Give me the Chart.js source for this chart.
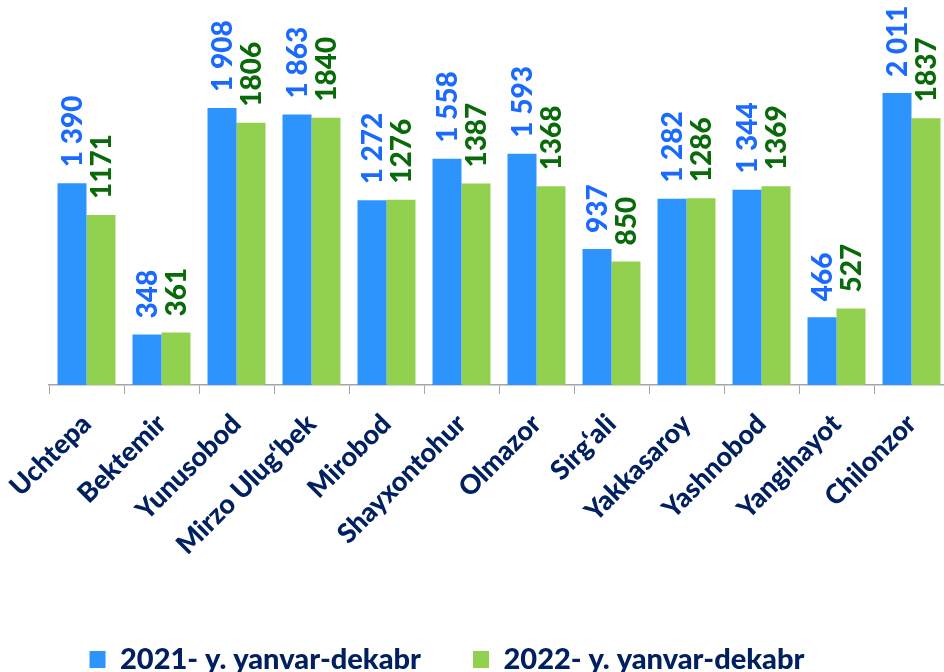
<!DOCTYPE html>
<html>
<head>
<meta charset="utf-8">
<script src="https://cdn.jsdelivr.net/npm/chart.js@4/dist/chart.umd.min.js"></script>
<style>
    html, body { margin: 0; padding: 0; overflow: hidden; background: #fff; }
    #wrap { width: 949px; height: 672px; }
</style>
</head>
<body>
<div id="wrap"><canvas id="districtChart"></canvas></div>
<script>
const districts = ['Uchtepa', 'Bektemir', 'Yunusobod', 'Mirzo Ulug‘bek', 'Mirobod', 'Shayxontohur',
    'Olmazor', 'Sirg‘ali', 'Yakkasaroy', 'Yashnobod', 'Yangihayot', 'Chilonzor'];
const values2021 = [1390, 348, 1908, 1863, 1272, 1558, 1593, 937, 1282, 1344, 466, 2011];
const values2022 = [1171, 361, 1806, 1840, 1276, 1387, 1368, 850, 1286, 1369, 527, 1837];
const seriesNames = ['2021- y. yanvar-dekabr', '2022- y. yanvar-dekabr'];

const navy = '#002060';

// value labels written upright above each bar
const barLabels = {
    id: 'barLabels',
    afterDatasetsDraw(chart) {
        const ctx = chart.ctx;
        chart.data.datasets.forEach((ds, i) => {
            const meta = chart.getDatasetMeta(i);
            meta.data.forEach((bar, j) => {
                const v = ds.data[j];
                const txt = i === 0 ? String(v).replace(/\B(?=(\d{3})+$)/, ' ') : String(v);
                ctx.save();
                ctx.translate(bar.x, bar.y - 16);
                ctx.rotate(-Math.PI / 2);
                ctx.font = '900 28px Lato';
                ctx.fillStyle = ds.labelColor;
                ctx.textAlign = 'left';
                ctx.textBaseline = 'middle';
                ctx.fillText(txt, 0, 1);
                ctx.restore();
            });
        });
    }
};

// nudge the legend to where it sits in the original
const legendShift = {
    id: 'legendShift',
    afterLayout(chart) {
        const l = chart.legend;
        const dx = -52, dy = 12;
        l.left += dx; l.right += dx;
        l.top += dy; l.bottom += dy;
    }
};

new Chart(document.getElementById('districtChart'), {
    type: 'bar',
    data: {
        labels: districts,
        datasets: [{
            label: seriesNames[0],
            data: values2021,
            backgroundColor: '#2e94fd',
            labelColor: '#1a6aff',
        },
        {
            label: seriesNames[1],
            data: values2022,
            backgroundColor: '#92d050',
            labelColor: '#086a08',
        }],
    },
    options: {
        responsive: true,
        maintainAspectRatio: false,
        animation: false,
        categoryPercentage: 0.773,
        barPercentage: 1,
        layout: { padding: { top: 22, left: 49, right: 0, bottom: 0 } },
        plugins: {
            tooltip: { enabled: false },
            legend: {
                position: 'bottom',
                labels: {
                    color: navy,
                    font: { family: 'Lato', size: 29, weight: '900' },
                    boxWidth: 16,
                    boxHeight: 17,
                    padding: 52,
                },
            },
        },
        scales: {
            x: {
                grid: {
                    display: true,
                    drawOnChartArea: false,
                    color: '#a6a6a6',
                    tickLength: 9,
                    offset: true,
                },
                border: { color: '#a6a6a6', width: 1.5 },
                ticks: {
                    color: navy,
                    font: { family: 'Lato', size: 27, weight: '900' },
                    minRotation: 45,
                    maxRotation: 45,
                    autoSkip: false,
                    padding: 14,
                },
                afterFit(s) {
                    s.paddingLeft = 0;
                    s.paddingRight = 0;
                    s.height = 672 - 385 - s.chart.legend.height;
                },
            },
            y: {
                display: false,
                min: 0,
                max: 2500,
            },
        },
    },
    plugins: [barLabels, legendShift],
});
</script>
</body>
</html>
